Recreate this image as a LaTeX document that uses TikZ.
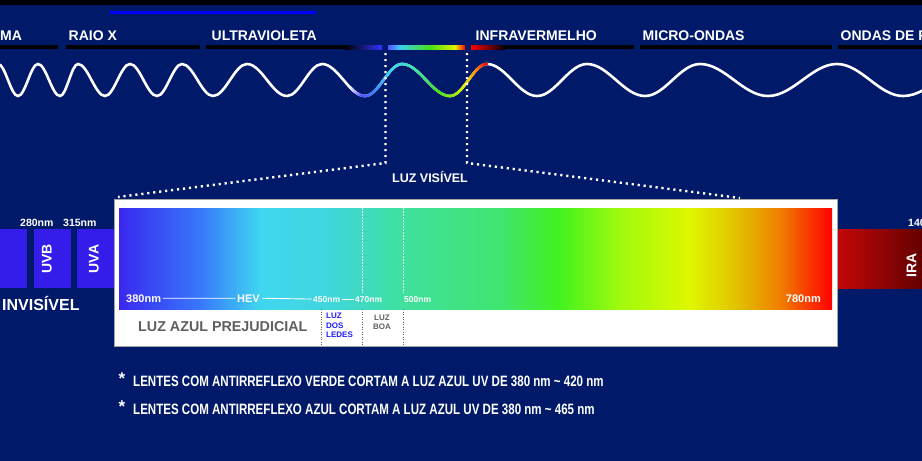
\documentclass[tikz,border=0pt]{standalone}
\usepackage{fontspec}
\setmainfont{Liberation Sans}
\newfontfamily\narrowfont[FakeStretch=0.77]{Liberation Sans}
\usepackage{xcolor}
\usepackage{tikz}
\usetikzlibrary{calc}
\definecolor{navybg}{RGB}{0,25,105}
\definecolor{uvblock}{RGB}{52,28,235}
\definecolor{boxgray}{RGB}{165,165,165}
\definecolor{textgray}{RGB}{95,95,95}
\definecolor{ledblue}{RGB}{30,30,255}
\definecolor{topblue}{RGB}{0,0,255}
\definecolor{irlight}{RGB}{195,8,8}
\definecolor{irdark}{RGB}{100,0,0}
% visible spectrum
\definecolor{sp1}{RGB}{58,40,240}
\definecolor{sp2}{RGB}{55,120,250}
\definecolor{sp3}{RGB}{64,214,240}
\definecolor{sp4}{RGB}{64,214,220}
\definecolor{sp5}{RGB}{64,224,160}
\definecolor{sp6}{RGB}{64,228,112}
\definecolor{sp7}{RGB}{66,242,30}
\definecolor{sp8}{RGB}{160,250,14}
\definecolor{sp9}{RGB}{222,248,0}
\definecolor{sp10}{RGB}{226,190,0}
\definecolor{sp11}{RGB}{240,125,0}
\definecolor{sp12}{RGB}{255,0,0}
% coloured part of the wave
\definecolor{wv1}{RGB}{85,80,255}
\definecolor{wv2}{RGB}{60,130,255}
\definecolor{wv3}{RGB}{60,205,240}
\definecolor{wv4}{RGB}{60,225,210}
\definecolor{wv5}{RGB}{60,225,120}
\definecolor{wv6}{RGB}{70,225,20}
\definecolor{wv7}{RGB}{150,235,0}
\definecolor{wv8}{RGB}{230,240,0}
\definecolor{wv9}{RGB}{255,130,0}
\definecolor{wv10}{RGB}{255,0,0}
\pgfdeclarehorizontalshading{visible}{100bp}{color(0bp)=(sp1); color(25bp)=(sp1); color(30.7bp)=(sp2); color(34.9bp)=(sp3); color(39.8bp)=(sp4); color(44.7bp)=(sp5); color(51.7bp)=(sp6); color(55.9bp)=(sp7); color(60.1bp)=(sp8); color(65bp)=(sp9); color(68.5bp)=(sp10); color(71.4bp)=(sp11); color(75bp)=(sp12); color(100bp)=(sp12)}
\pgfdeclarehorizontalshading{rainbowbar}{100bp}{color(0bp)=(wv1); color(25bp)=(wv1); color(32.8bp)=(wv3); color(52.3bp)=(wv6); color(68.5bp)=(wv8); color(75bp)=(wv10); color(100bp)=(wv10)}

\begin{document}
\begin{tikzpicture}[x=1pt, y=-1pt,
    every node/.style={inner sep=0, text=white},
    toplbl/.style={font=\bfseries\fontsize{14}{16}\selectfont, anchor=base west},
    nmlbl/.style={font=\bfseries\fontsize{10.5}{12}\selectfont, anchor=base west},
    smalllbl/.style={font=\bfseries\fontsize{8.5}{10}\selectfont, anchor=base west, inner xsep=1.5pt},
    vertlbl/.style={font=\bfseries\fontsize{14}{16}\selectfont, rotate=90},
    note/.style={font=\narrowfont\bfseries\fontsize{15}{17}\selectfont, anchor=base west},
    star/.style={font=\bfseries\fontsize{17}{18}\selectfont},
    wave/.style={line width=2.6pt, line cap=round},
    dots/.style={white, line width=2.4pt, dash pattern=on 2.2pt off 3.8pt},
    declare function={wy(\x)=(\x<365)?(80-16*cos((\x-322)/43*180)):((\x<402)?(80+16*cos((\x-365)/37*180)):((\x<450)?(80-16*cos((\x-402)/48*180)):(80+16*cos((\x-450)/37*180))));}]
    \useasboundingbox (0,0) rectangle (922,461);
    \clip (0,0) rectangle (922,461);
    \fill[navybg] (0,0) rectangle (922,461);
    \fill[black] (0,0) rectangle (922,5);
    \fill[topblue] (110,11) rectangle (316,13.5);

    % bands of the spectrum
    \node[toplbl] (lblgama) at (0,40.5) {MA};
    \node[toplbl] (lblraiox) at (68.5,40.5) {RAIO X};
    \node[toplbl] (lbluv) at (211.5,40.5) {ULTRAVIOLETA};
    \node[toplbl] (lblir) at (475.5,40.5) {INFRAVERMELHO};
    \node[toplbl] (lblmicro) at (642.5,40.5) {MICRO-ONDAS};
    \node[toplbl] (lblradio) at (840.5,40.5) {ONDAS DE R};
    \fill[black] (0,45) rectangle (58,49);
    \fill[black] (66,45) rectangle (200,49);
    \fill[black] (206,45) rectangle (345,49);
    \shade[left color=black, right color=topblue!80!white] (345,45) rectangle (382,49);
    \shade[shading=rainbowbar] (388,45) rectangle (465,49);
    \shade[left color=red, right color=black] (471,45) rectangle (505,49);
    \fill[black] (505,45) rectangle (634,49);
    \fill[black] (640,45) rectangle (832,49);
    \fill[black] (838,45) rectangle (922,49);

    % wave
    \draw[wave, white] (-2,64) foreach \xa/\xb/\yb in {-2/18/96, 18/38/64, 38/60/96, 60/78/64, 78/105/96, 105/130/64, 130/157/96, 157/182/64, 182/213/96, 213/247/64, 247/287/96, 287/322/64, 322/365/96, 365/402/64, 402/450/96, 450/487/64, 487/537/96, 537/587/64, 587/645/96, 645/700/64, 700/768/96, 768/837/64, 837/903/96, 903/975/64} { cos ({(\xa+\xb)/2},80) sin (\xb,\yb) };
    \foreach \xa/\xb/\ca/\cb in {350/362/white/wv1, 362/375/wv1/wv2, 375/388/wv2/wv3, 388/405/wv3/wv4, 405/425/wv4/wv5, 425/440/wv5/wv6, 440/455/wv6/wv7, 455/465/wv7/wv8, 465/477/wv8/wv9, 477/487/wv9/wv10}
      \foreach \t in {0,...,9} {
        \pgfmathtruncatemacro\mix{\t*10+5}
        \draw[wave, color=\cb!\mix!\ca] ({\xa+(\xb-\xa)*\t/10},{wy(\xa+(\xb-\xa)*\t/10)}) -- ({\xa+(\xb-\xa)*(\t+1)/10},{wy(\xa+(\xb-\xa)*(\t+1)/10)});
      }

    % zoom onto the visible light
    \coordinate (visl) at (385.5,163);
    \coordinate (visr) at (467,163);
    \draw[dots] (385.5,53) -- (visl) -- (118,197);
    \draw[dots] (467,53) -- (visr) -- (740,198);
    \node[font=\bfseries\fontsize{12.5}{14}\selectfont, anchor=base] (lblvis) at (430,182.5) {LUZ VISÍVEL};

    % invisible side
    \fill[uvblock] (0,229) rectangle (27,288);
    \fill[uvblock] (34,229) rectangle (71,288);
    \fill[uvblock] (77,229) rectangle (116,288);
    \shade[left color=irlight, right color=irdark] (836,229) rectangle (922,288);
    \node[vertlbl] (uvb) at (47,259) {UVB};
    \node[vertlbl] (uva) at (94,259) {UVA};
    \node[vertlbl] (ira) at (911.5,265.5) {IRA};
    \node[nmlbl] (nm280) at (20,226) {280nm};
    \node[nmlbl] (nm315) at (63,226) {315nm};
    \node[nmlbl] (nm1400) at (908,226) {140};
    \node[font=\bfseries\fontsize{16}{18}\selectfont, anchor=base west] (invis) at (2,310.5) {INVISÍVEL};

    % visible spectrum box
    \filldraw[fill=white, draw=boxgray, line width=1pt] (114,199) rectangle (837,346);
    \shade[shading=visible] (119,208) rectangle (832,309);
    \foreach \xl in {362,403}
      \draw[white!85!sp4, line width=0.8pt, dash pattern=on 1.5pt off 1.5pt] (\xl,208) -- (\xl,293);
    \foreach \xl in {321,362,403}
      \draw[textgray, line width=0.7pt, dash pattern=on 1.2pt off 1.3pt] (\xl,309) -- (\xl,346);
    \node[font=\bfseries\fontsize{11}{13}\selectfont, anchor=base west, inner xsep=1.5pt] (nm380) at (124.5,302) {380nm};
    \node[font=\bfseries\fontsize{11}{13}\selectfont, anchor=base west, inner xsep=2pt] (hev) at (235,302) {HEV};
    \node[smalllbl] (nm450) at (311.5,302) {450nm};
    \node[smalllbl] (nm470) at (353.5,302) {470nm};
    \node[smalllbl] (nm500) at (402.5,302) {500nm};
    \node[font=\bfseries\fontsize{11}{13}\selectfont, anchor=base east] (nm780) at (821,302) {780nm};
    \draw[white, line width=0.9pt] (nm380.east) -- (hev.west);
    \draw[white, line width=0.9pt] (hev.east) -- (nm450.west);
    \draw[white, line width=0.9pt] (nm450.east) -- (nm470.west);
    \node[font=\bfseries\fontsize{14.3}{16}\selectfont, anchor=base west, text=textgray] (prejud) at (138,331.5) {LUZ AZUL PREJUDICIAL};
    \node[font=\bfseries\fontsize{8}{9.2}\selectfont, anchor=north west, align=left, text=ledblue] (leds) at (326,313.2) {LUZ\\DOS\\LEDES};
    \node[font=\bfseries\fontsize{8}{9.3}\selectfont, anchor=north, align=center, text=textgray] (boa) at (382,314.6) {LUZ\\BOA};

    % notes
    \node[star] (star1) at (122,379) {*};
    \node[note] (note1) at (133,386) {LENTES COM ANTIRREFLEXO VERDE CORTAM A LUZ AZUL UV DE 380 nm \textasciitilde{} 420 nm};
    \node[star] (star2) at (122,407) {*};
    \node[note] (note2) at (133,414.3) {LENTES COM ANTIRREFLEXO AZUL CORTAM A LUZ AZUL UV DE 380 nm \textasciitilde{} 465 nm};
\end{tikzpicture}
\end{document}
